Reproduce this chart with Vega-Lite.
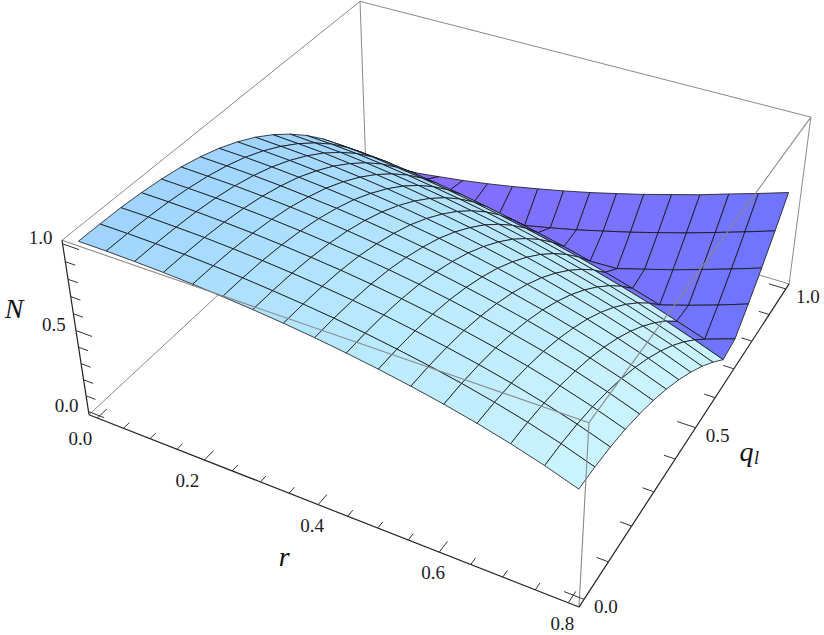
{"$schema":"https://vega.github.io/schema/vega-lite/v6.json","width":824,"height":635,"padding":0,"autosize":{"type":"fit","contains":"padding"},"background":"white","view":{"stroke":null},
"datasets":{
"nodes":[
{"id":16,"r":0,"q":1,"N":0,"side":"rise"},{"id":116,"r":0.05,"q":1,"N":0.007,"side":"rise"},{"id":216,"r":0.1,"q":1,"N":0.018,"side":"rise"},{"id":316,"r":0.15,"q":1,"N":0.04,"side":"rise"},{"id":416,"r":0.2,"q":1,"N":0.063,"side":"rise"},{"id":516,"r":0.25,"q":1,"N":0.09,"side":"rise"},{"id":616,"r":0.3,"q":1,"N":0.121,"side":"rise"},{"id":716,"r":0.35,"q":1,"N":0.155,"side":"rise"},{"id":816,"r":0.4,"q":1,"N":0.191,"side":"rise"},{"id":916,"r":0.45,"q":1,"N":0.23,"side":"rise"},{"id":1016,"r":0.5,"q":1,"N":0.273,"side":"rise"},{"id":1116,"r":0.55,"q":1,"N":0.318,"side":"rise"},{"id":1216,"r":0.6,"q":1,"N":0.367,"side":"rise"},{"id":1316,"r":0.65,"q":1,"N":0.416,"side":"rise"},{"id":1416,"r":0.7,"q":1,"N":0.471,"side":"rise"},{"id":1516,"r":0.75,"q":1,"N":0.524,"side":"rise"},{"id":1616,"r":0.8,"q":1,"N":0.58,"side":"rise"},
{"id":15,"r":0,"q":0.9375,"N":0.155,"side":"rise"},{"id":115,"r":0.05,"q":0.9375,"N":0.147,"side":"rise"},{"id":215,"r":0.1,"q":0.9375,"N":0.135,"side":"rise"},{"id":315,"r":0.15,"q":0.9375,"N":0.113,"side":"rise"},{"id":415,"r":0.2,"q":0.9375,"N":0.09,"side":"rise"},{"id":515,"r":0.25,"q":0.9375,"N":0.063,"side":"rise"},{"id":615,"r":0.3,"q":0.9375,"N":0.032,"side":"rise"},{"id":715,"r":0.35,"q":0.9375,"N":0.002,"side":"rise"},{"id":815,"r":0.4,"q":0.9375,"N":0.038,"side":"rise"},{"id":915,"r":0.45,"q":0.9375,"N":0.077,"side":"rise"},{"id":1015,"r":0.5,"q":0.9375,"N":0.121,"side":"rise"},{"id":1115,"r":0.55,"q":0.9375,"N":0.166,"side":"rise"},{"id":1215,"r":0.6,"q":0.9375,"N":0.216,"side":"rise"},{"id":1315,"r":0.65,"q":0.9375,"N":0.266,"side":"rise"},{"id":1415,"r":0.7,"q":0.9375,"N":0.322,"side":"rise"},{"id":1515,"r":0.75,"q":0.9375,"N":0.378,"side":"rise"},{"id":1615,"r":0.8,"q":0.9375,"N":0.437,"side":"rise"},
{"id":14,"r":0,"q":0.875,"N":0.295,"side":"rise"},{"id":114,"r":0.05,"q":0.875,"N":0.286,"side":"rise"},{"id":214,"r":0.1,"q":0.875,"N":0.273,"side":"rise"},{"id":314,"r":0.15,"q":0.875,"N":0.252,"side":"rise"},{"id":414,"r":0.2,"q":0.875,"N":0.229,"side":"rise"},{"id":514,"r":0.25,"q":0.875,"N":0.203,"side":"rise"},{"id":614,"r":0.3,"q":0.875,"N":0.172,"side":"rise"},{"id":714,"r":0.35,"q":0.875,"N":0.139,"side":"rise"},{"id":814,"r":0.4,"q":0.875,"N":0.103,"side":"rise"},{"id":914,"r":0.45,"q":0.875,"N":0.064,"side":"rise"},{"id":1014,"r":0.5,"q":0.875,"N":0.02,"side":"rise"},{"id":1114,"r":0.55,"q":0.875,"N":0.025,"side":"rise"},{"id":1214,"r":0.6,"q":0.875,"N":0.076,"side":"rise"},{"id":1314,"r":0.65,"q":0.875,"N":0.127,"side":"rise"},{"id":1414,"r":0.7,"q":0.875,"N":0.184,"side":"rise"},{"id":1514,"r":0.75,"q":0.875,"N":0.242,"side":"rise"},{"id":1614,"r":0.8,"q":0.875,"N":0.303,"side":"rise"},
{"id":13,"r":0,"q":0.8125,"N":0.418},{"id":113,"r":0.05,"q":0.8125,"N":0.409},{"id":213,"r":0.1,"q":0.8125,"N":0.396},{"id":313,"r":0.15,"q":0.8125,"N":0.375},{"id":413,"r":0.2,"q":0.8125,"N":0.353},{"id":513,"r":0.25,"q":0.8125,"N":0.327},{"id":613,"r":0.3,"q":0.8125,"N":0.298},{"id":713,"r":0.35,"q":0.8125,"N":0.265,"side":"rise"},{"id":813,"r":0.4,"q":0.8125,"N":0.23,"side":"rise"},{"id":913,"r":0.45,"q":0.8125,"N":0.191,"side":"rise"},{"id":1013,"r":0.5,"q":0.8125,"N":0.148,"side":"rise"},{"id":1113,"r":0.55,"q":0.8125,"N":0.103,"side":"rise"},{"id":1213,"r":0.6,"q":0.8125,"N":0.053,"side":"rise"},{"id":1313,"r":0.65,"q":0.8125,"N":0.001,"side":"rise"},{"id":1413,"r":0.7,"q":0.8125,"N":0.056,"side":"rise"},{"id":1513,"r":0.75,"q":0.8125,"N":0.115,"side":"rise"},{"id":1613,"r":0.8,"q":0.8125,"N":0.179,"side":"rise"},
{"id":12,"r":0,"q":0.75,"N":0.527},{"id":112,"r":0.05,"q":0.75,"N":0.518},{"id":212,"r":0.1,"q":0.75,"N":0.505},{"id":312,"r":0.15,"q":0.75,"N":0.486},{"id":412,"r":0.2,"q":0.75,"N":0.464},{"id":512,"r":0.25,"q":0.75,"N":0.439},{"id":612,"r":0.3,"q":0.75,"N":0.411},{"id":712,"r":0.35,"q":0.75,"N":0.379},{"id":812,"r":0.4,"q":0.75,"N":0.345},{"id":912,"r":0.45,"q":0.75,"N":0.307},{"id":1012,"r":0.5,"q":0.75,"N":0.265},{"id":1112,"r":0.55,"q":0.75,"N":0.22,"side":"rise"},{"id":1212,"r":0.6,"q":0.75,"N":0.171,"side":"rise"},{"id":1312,"r":0.65,"q":0.75,"N":0.119,"side":"rise"},{"id":1412,"r":0.7,"q":0.75,"N":0.061,"side":"rise"},{"id":1512,"r":0.75,"q":0.75,"N":0.002,"side":"rise"},{"id":1612,"r":0.8,"q":0.75,"N":0.064,"side":"rise"},
{"id":11,"r":0,"q":0.6875,"N":0.622},{"id":111,"r":0.05,"q":0.6875,"N":0.613},{"id":211,"r":0.1,"q":0.6875,"N":0.601},{"id":311,"r":0.15,"q":0.6875,"N":0.583},{"id":411,"r":0.2,"q":0.6875,"N":0.562},{"id":511,"r":0.25,"q":0.6875,"N":0.539},{"id":611,"r":0.3,"q":0.6875,"N":0.512},{"id":711,"r":0.35,"q":0.6875,"N":0.481},{"id":811,"r":0.4,"q":0.6875,"N":0.448},{"id":911,"r":0.45,"q":0.6875,"N":0.411},{"id":1011,"r":0.5,"q":0.6875,"N":0.37},{"id":1111,"r":0.55,"q":0.6875,"N":0.326},{"id":1211,"r":0.6,"q":0.6875,"N":0.278},{"id":1311,"r":0.65,"q":0.6875,"N":0.226},{"id":1411,"r":0.7,"q":0.6875,"N":0.169,"side":"rise"},{"id":1511,"r":0.75,"q":0.6875,"N":0.108,"side":"rise"},{"id":1611,"r":0.8,"q":0.6875,"N":0.042},
{"id":10,"r":0,"q":0.625,"N":0.705},{"id":110,"r":0.05,"q":0.625,"N":0.696},{"id":210,"r":0.1,"q":0.625,"N":0.685},{"id":310,"r":0.15,"q":0.625,"N":0.668},{"id":410,"r":0.2,"q":0.625,"N":0.649},{"id":510,"r":0.25,"q":0.625,"N":0.627},{"id":610,"r":0.3,"q":0.625,"N":0.601},{"id":710,"r":0.35,"q":0.625,"N":0.572},{"id":810,"r":0.4,"q":0.625,"N":0.541},{"id":910,"r":0.45,"q":0.625,"N":0.505},{"id":1010,"r":0.5,"q":0.625,"N":0.465},{"id":1110,"r":0.55,"q":0.625,"N":0.421},{"id":1210,"r":0.6,"q":0.625,"N":0.374},{"id":1310,"r":0.65,"q":0.625,"N":0.323},{"id":1410,"r":0.7,"q":0.625,"N":0.266},{"id":1510,"r":0.75,"q":0.625,"N":0.206},{"id":1610,"r":0.8,"q":0.625,"N":0.139},
{"id":9,"r":0,"q":0.5625,"N":0.776},{"id":109,"r":0.05,"q":0.5625,"N":0.767},{"id":209,"r":0.1,"q":0.5625,"N":0.757},{"id":309,"r":0.15,"q":0.5625,"N":0.742},{"id":409,"r":0.2,"q":0.5625,"N":0.724},{"id":509,"r":0.25,"q":0.5625,"N":0.703},{"id":609,"r":0.3,"q":0.5625,"N":0.679},{"id":709,"r":0.35,"q":0.5625,"N":0.651},{"id":809,"r":0.4,"q":0.5625,"N":0.621},{"id":909,"r":0.45,"q":0.5625,"N":0.587},{"id":1009,"r":0.5,"q":0.5625,"N":0.548},{"id":1109,"r":0.55,"q":0.5625,"N":0.506},{"id":1209,"r":0.6,"q":0.5625,"N":0.46},{"id":1309,"r":0.65,"q":0.5625,"N":0.41},{"id":1409,"r":0.7,"q":0.5625,"N":0.354},{"id":1509,"r":0.75,"q":0.5625,"N":0.294},{"id":1609,"r":0.8,"q":0.5625,"N":0.227},
{"id":8,"r":0,"q":0.5,"N":0.835},{"id":108,"r":0.05,"q":0.5,"N":0.828},{"id":208,"r":0.1,"q":0.5,"N":0.818},{"id":308,"r":0.15,"q":0.5,"N":0.804},{"id":408,"r":0.2,"q":0.5,"N":0.788},{"id":508,"r":0.25,"q":0.5,"N":0.768},{"id":608,"r":0.3,"q":0.5,"N":0.746},{"id":708,"r":0.35,"q":0.5,"N":0.72},{"id":808,"r":0.4,"q":0.5,"N":0.692},{"id":908,"r":0.45,"q":0.5,"N":0.658},{"id":1008,"r":0.5,"q":0.5,"N":0.621},{"id":1108,"r":0.55,"q":0.5,"N":0.581},{"id":1208,"r":0.6,"q":0.5,"N":0.536},{"id":1308,"r":0.65,"q":0.5,"N":0.487},{"id":1408,"r":0.7,"q":0.5,"N":0.432},{"id":1508,"r":0.75,"q":0.5,"N":0.372},{"id":1608,"r":0.8,"q":0.5,"N":0.305},
{"id":7,"r":0,"q":0.4375,"N":0.884},{"id":107,"r":0.05,"q":0.4375,"N":0.878},{"id":207,"r":0.1,"q":0.4375,"N":0.869},{"id":307,"r":0.15,"q":0.4375,"N":0.857},{"id":407,"r":0.2,"q":0.4375,"N":0.842},{"id":507,"r":0.25,"q":0.4375,"N":0.824},{"id":607,"r":0.3,"q":0.4375,"N":0.803},{"id":707,"r":0.35,"q":0.4375,"N":0.779},{"id":807,"r":0.4,"q":0.4375,"N":0.752},{"id":907,"r":0.45,"q":0.4375,"N":0.72},{"id":1007,"r":0.5,"q":0.4375,"N":0.684},{"id":1107,"r":0.55,"q":0.4375,"N":0.645},{"id":1207,"r":0.6,"q":0.4375,"N":0.601},{"id":1307,"r":0.65,"q":0.4375,"N":0.554},{"id":1407,"r":0.7,"q":0.4375,"N":0.5},{"id":1507,"r":0.75,"q":0.4375,"N":0.441},{"id":1607,"r":0.8,"q":0.4375,"N":0.374},
{"id":6,"r":0,"q":0.375,"N":0.922},{"id":106,"r":0.05,"q":0.375,"N":0.917},{"id":206,"r":0.1,"q":0.375,"N":0.909},{"id":306,"r":0.15,"q":0.375,"N":0.898},{"id":406,"r":0.2,"q":0.375,"N":0.884},{"id":506,"r":0.25,"q":0.375,"N":0.868},{"id":606,"r":0.3,"q":0.375,"N":0.849},{"id":706,"r":0.35,"q":0.375,"N":0.826},{"id":806,"r":0.4,"q":0.375,"N":0.8},{"id":906,"r":0.45,"q":0.375,"N":0.77},{"id":1006,"r":0.5,"q":0.375,"N":0.736},{"id":1106,"r":0.55,"q":0.375,"N":0.699},{"id":1206,"r":0.6,"q":0.375,"N":0.657},{"id":1306,"r":0.65,"q":0.375,"N":0.61},{"id":1406,"r":0.7,"q":0.375,"N":0.558},{"id":1506,"r":0.75,"q":0.375,"N":0.5},{"id":1606,"r":0.8,"q":0.375,"N":0.434},
{"id":5,"r":0,"q":0.3125,"N":0.952},{"id":105,"r":0.05,"q":0.3125,"N":0.947},{"id":205,"r":0.1,"q":0.3125,"N":0.941},{"id":305,"r":0.15,"q":0.3125,"N":0.931},{"id":405,"r":0.2,"q":0.3125,"N":0.919},{"id":505,"r":0.25,"q":0.3125,"N":0.904},{"id":605,"r":0.3,"q":0.3125,"N":0.886},{"id":705,"r":0.35,"q":0.3125,"N":0.864},{"id":805,"r":0.4,"q":0.3125,"N":0.84},{"id":905,"r":0.45,"q":0.3125,"N":0.812},{"id":1005,"r":0.5,"q":0.3125,"N":0.779},{"id":1105,"r":0.55,"q":0.3125,"N":0.743},{"id":1205,"r":0.6,"q":0.3125,"N":0.703},{"id":1305,"r":0.65,"q":0.3125,"N":0.658},{"id":1405,"r":0.7,"q":0.3125,"N":0.607},{"id":1505,"r":0.75,"q":0.3125,"N":0.55},{"id":1605,"r":0.8,"q":0.3125,"N":0.485},
{"id":4,"r":0,"q":0.25,"N":0.973},{"id":104,"r":0.05,"q":0.25,"N":0.969},{"id":204,"r":0.1,"q":0.25,"N":0.964},{"id":304,"r":0.15,"q":0.25,"N":0.955},{"id":404,"r":0.2,"q":0.25,"N":0.944},{"id":504,"r":0.25,"q":0.25,"N":0.93},{"id":604,"r":0.3,"q":0.25,"N":0.913},{"id":704,"r":0.35,"q":0.25,"N":0.894},{"id":804,"r":0.4,"q":0.25,"N":0.871},{"id":904,"r":0.45,"q":0.25,"N":0.844},{"id":1004,"r":0.5,"q":0.25,"N":0.813},{"id":1104,"r":0.55,"q":0.25,"N":0.778},{"id":1204,"r":0.6,"q":0.25,"N":0.739},{"id":1304,"r":0.65,"q":0.25,"N":0.696},{"id":1404,"r":0.7,"q":0.25,"N":0.646},{"id":1504,"r":0.75,"q":0.25,"N":0.59},{"id":1604,"r":0.8,"q":0.25,"N":0.526},
{"id":3,"r":0,"q":0.1875,"N":0.987},{"id":103,"r":0.05,"q":0.1875,"N":0.985},{"id":203,"r":0.1,"q":0.1875,"N":0.98},{"id":303,"r":0.15,"q":0.1875,"N":0.972},{"id":403,"r":0.2,"q":0.1875,"N":0.962},{"id":503,"r":0.25,"q":0.1875,"N":0.949},{"id":603,"r":0.3,"q":0.1875,"N":0.933},{"id":703,"r":0.35,"q":0.1875,"N":0.915},{"id":803,"r":0.4,"q":0.1875,"N":0.893},{"id":903,"r":0.45,"q":0.1875,"N":0.867},{"id":1003,"r":0.5,"q":0.1875,"N":0.838},{"id":1103,"r":0.55,"q":0.1875,"N":0.805},{"id":1203,"r":0.6,"q":0.1875,"N":0.767},{"id":1303,"r":0.65,"q":0.1875,"N":0.725},{"id":1403,"r":0.7,"q":0.1875,"N":0.677},{"id":1503,"r":0.75,"q":0.1875,"N":0.622},{"id":1603,"r":0.8,"q":0.1875,"N":0.559},
{"id":2,"r":0,"q":0.125,"N":0.996},{"id":102,"r":0.05,"q":0.125,"N":0.994},{"id":202,"r":0.1,"q":0.125,"N":0.989},{"id":302,"r":0.15,"q":0.125,"N":0.983},{"id":402,"r":0.2,"q":0.125,"N":0.973},{"id":502,"r":0.25,"q":0.125,"N":0.961},{"id":602,"r":0.3,"q":0.125,"N":0.946},{"id":702,"r":0.35,"q":0.125,"N":0.928},{"id":802,"r":0.4,"q":0.125,"N":0.907},{"id":902,"r":0.45,"q":0.125,"N":0.883},{"id":1002,"r":0.5,"q":0.125,"N":0.854},{"id":1102,"r":0.55,"q":0.125,"N":0.822},{"id":1202,"r":0.6,"q":0.125,"N":0.786},{"id":1302,"r":0.65,"q":0.125,"N":0.745},{"id":1402,"r":0.7,"q":0.125,"N":0.698},{"id":1502,"r":0.75,"q":0.125,"N":0.644},{"id":1602,"r":0.8,"q":0.125,"N":0.582},
{"id":1,"r":0,"q":0.0625,"N":0.999},{"id":101,"r":0.05,"q":0.0625,"N":0.998},{"id":201,"r":0.1,"q":0.0625,"N":0.994},{"id":301,"r":0.15,"q":0.0625,"N":0.988},{"id":401,"r":0.2,"q":0.0625,"N":0.979},{"id":501,"r":0.25,"q":0.0625,"N":0.967},{"id":601,"r":0.3,"q":0.0625,"N":0.952},{"id":701,"r":0.35,"q":0.0625,"N":0.935},{"id":801,"r":0.4,"q":0.0625,"N":0.915},{"id":901,"r":0.45,"q":0.0625,"N":0.891},{"id":1001,"r":0.5,"q":0.0625,"N":0.863},{"id":1101,"r":0.55,"q":0.0625,"N":0.832},{"id":1201,"r":0.6,"q":0.0625,"N":0.797},{"id":1301,"r":0.65,"q":0.0625,"N":0.756},{"id":1401,"r":0.7,"q":0.0625,"N":0.71},{"id":1501,"r":0.75,"q":0.0625,"N":0.657},{"id":1601,"r":0.8,"q":0.0625,"N":0.595},
{"id":0,"r":0,"q":0,"N":1},{"id":100,"r":0.05,"q":0,"N":0.999},{"id":200,"r":0.1,"q":0,"N":0.995},{"id":300,"r":0.15,"q":0,"N":0.989},{"id":400,"r":0.2,"q":0,"N":0.98},{"id":500,"r":0.25,"q":0,"N":0.968},{"id":600,"r":0.3,"q":0,"N":0.954},{"id":700,"r":0.35,"q":0,"N":0.937},{"id":800,"r":0.4,"q":0,"N":0.917},{"id":900,"r":0.45,"q":0,"N":0.893},{"id":1000,"r":0.5,"q":0,"N":0.866},{"id":1100,"r":0.55,"q":0,"N":0.835},{"id":1200,"r":0.6,"q":0,"N":0.8},{"id":1300,"r":0.65,"q":0,"N":0.76},{"id":1400,"r":0.7,"q":0,"N":0.714},{"id":1500,"r":0.75,"q":0,"N":0.661},{"id":1600,"r":0.8,"q":0,"N":0.6}
],
"edges":[
{"kind":"back","r1":-0.016,"q1":-0.02,"N1":-0.02,"r2":-0.016,"q2":1.02,"N2":-0.02},
{"kind":"back","r1":-0.016,"q1":1.02,"N1":-0.02,"r2":0.816,"q2":1.02,"N2":-0.02},
{"kind":"back","r1":-0.016,"q1":1.02,"N1":-0.02,"r2":-0.016,"q2":1.02,"N2":1.02},
{"kind":"back","r1":-0.016,"q1":-0.02,"N1":1.02,"r2":-0.016,"q2":1.02,"N2":1.02},
{"kind":"back","r1":-0.016,"q1":1.02,"N1":1.02,"r2":0.816,"q2":1.02,"N2":1.02},
{"kind":"back","r1":0.816,"q1":1.02,"N1":-0.02,"r2":0.816,"q2":1.02,"N2":1.02},
{"kind":"front","r1":-0.016,"q1":-0.02,"N1":1.02,"r2":0.816,"q2":-0.02,"N2":1.02},
{"kind":"front","r1":0.816,"q1":-0.02,"N1":1.02,"r2":0.816,"q2":-0.02,"N2":-0.02},
{"kind":"front","r1":0.816,"q1":-0.02,"N1":1.02,"r2":0.816,"q2":1.02,"N2":1.02},
{"kind":"axis","r1":-0.016,"q1":-0.02,"N1":-0.02,"r2":0.816,"q2":-0.02,"N2":-0.02},
{"kind":"axis","r1":0.816,"q1":-0.02,"N1":-0.02,"r2":0.816,"q2":1.02,"N2":-0.02},
{"kind":"axis","r1":-0.016,"q1":-0.02,"N1":-0.02,"r2":-0.016,"q2":-0.02,"N2":1.02}
],
"ticks":[
{"axis":"r","v":0,"label":"0.0"},{"axis":"r","v":0.05},{"axis":"r","v":0.1},{"axis":"r","v":0.15},{"axis":"r","v":0.2,"label":"0.2"},{"axis":"r","v":0.25},{"axis":"r","v":0.3},{"axis":"r","v":0.35},{"axis":"r","v":0.4,"label":"0.4"},{"axis":"r","v":0.45},{"axis":"r","v":0.5},{"axis":"r","v":0.55},{"axis":"r","v":0.6,"label":"0.6"},{"axis":"r","v":0.65},{"axis":"r","v":0.7},{"axis":"r","v":0.75},{"axis":"r","v":0.8,"label":"0.8"},
{"axis":"q","v":0,"label":"0.0"},{"axis":"q","v":0.1},{"axis":"q","v":0.2},{"axis":"q","v":0.3},{"axis":"q","v":0.4},{"axis":"q","v":0.5,"label":"0.5"},{"axis":"q","v":0.6},{"axis":"q","v":0.7},{"axis":"q","v":0.8},{"axis":"q","v":0.9},{"axis":"q","v":1,"label":"1.0"},
{"axis":"N","v":0,"label":"0.0"},{"axis":"N","v":0.1},{"axis":"N","v":0.2},{"axis":"N","v":0.3},{"axis":"N","v":0.4},{"axis":"N","v":0.5,"label":"0.5"},{"axis":"N","v":0.6},{"axis":"N","v":0.7},{"axis":"N","v":0.8},{"axis":"N","v":0.9},{"axis":"N","v":1,"label":"1.0"}
],
"titles":[{"axis":"r","v":0.4,"label":"r"},{"axis":"q","v":0.5,"label":"q"},{"axis":"N","v":0.5,"label":"N"}]
},
"encoding":{
"x":{"field":"px","type":"quantitative","scale":{"domain":[0,824],"nice":false,"zero":false},"axis":null},
"y":{"field":"py","type":"quantitative","scale":{"domain":[635,0],"nice":false,"zero":false},"axis":null}
},
"resolve":{"scale":{"fill":"independent"}},
"layer":[
{"data":{"name":"edges"},"transform":[{"filter":"datum.kind=='back'"},
{"calculate":"(datum.r1+0.016)/0.832","as":"u"},{"calculate":"(datum.q1+0.02)/1.04","as":"v"},{"calculate":"(datum.N1+0.02)/1.04","as":"w"},{"calculate":"1-0.1212*datum.u+0.217*datum.v-0.0679*datum.w","as":"h"},{"calculate":"(89+419.8*datum.u+355.9*datum.v-31.2*datum.w)/datum.h","as":"px"},{"calculate":"(414+119.4*datum.u-223.5*datum.v-191.2*datum.w)/datum.h","as":"py"},
{"calculate":"(datum.r2+0.016)/0.832","as":"u2"},{"calculate":"(datum.q2+0.02)/1.04","as":"v2"},{"calculate":"(datum.N2+0.02)/1.04","as":"w2"},{"calculate":"1-0.1212*datum.u2+0.217*datum.v2-0.0679*datum.w2","as":"h2"},{"calculate":"(89+419.8*datum.u2+355.9*datum.v2-31.2*datum.w2)/datum.h2","as":"ex"},{"calculate":"(414+119.4*datum.u2-223.5*datum.v2-191.2*datum.w2)/datum.h2","as":"ey"}],
"mark":{"type":"rule","stroke":"#8a8a8a","strokeWidth":1,"clip":false},"encoding":{"x2":{"field":"ex"},"y2":{"field":"ey"}}},
{"data":{"name":"nodes"},"transform":[{"filter":"datum.side=='rise' && datum.id%100<16 && datum.id<1600"},{"calculate":"[0,1,2,3,4]","as":"k"},{"flatten":["k"]},
{"calculate":"datum.id+((datum.k==1||datum.k==2)?100:0)+((datum.k==2||datum.k==3)?1:0)","as":"vid"},
{"lookup":"vid","from":{"data":{"name":"nodes"},"key":"id","fields":["r","q","N"]},"as":["rv","qv","Nv"]},
{"calculate":"(datum.rv+0.016)/0.832","as":"u"},{"calculate":"(datum.qv+0.02)/1.04","as":"v"},{"calculate":"(datum.Nv+0.02)/1.04","as":"w"},{"calculate":"1-0.1212*datum.u+0.217*datum.v-0.0679*datum.w","as":"h"},{"calculate":"(89+419.8*datum.u+355.9*datum.v-31.2*datum.w)/datum.h","as":"px"},{"calculate":"(414+119.4*datum.u-223.5*datum.v-191.2*datum.w)/datum.h","as":"py"}],
"mark":{"type":"line","stroke":"#111111","strokeWidth":0.8,"clip":false},
"encoding":{"detail":{"field":"id"},"order":{"field":"k"},"fill":{"field":"r","type":"quantitative","scale":{"domain":[0,0.8],"range":["#8c6cff","#6e76ff"]},"legend":null}}},
{"data":{"name":"nodes"},"transform":[{"filter":"datum.side!='rise' && datum.id%100<16 && datum.id<1600"},{"calculate":"[0,1,2,3,4]","as":"k"},{"flatten":["k"]},
{"calculate":"datum.id+((datum.k==1||datum.k==2)?100:0)+((datum.k==2||datum.k==3)?1:0)","as":"vid"},
{"lookup":"vid","from":{"data":{"name":"nodes"},"key":"id","fields":["r","q","N"]},"as":["rv","qv","Nv"]},
{"calculate":"(datum.rv+0.016)/0.832","as":"u"},{"calculate":"(datum.qv+0.02)/1.04","as":"v"},{"calculate":"(datum.Nv+0.02)/1.04","as":"w"},{"calculate":"1-0.1212*datum.u+0.217*datum.v-0.0679*datum.w","as":"h"},{"calculate":"(89+419.8*datum.u+355.9*datum.v-31.2*datum.w)/datum.h","as":"px"},{"calculate":"(414+119.4*datum.u-223.5*datum.v-191.2*datum.w)/datum.h","as":"py"}],
"mark":{"type":"line","stroke":"#111111","strokeWidth":0.8,"clip":false},
"encoding":{"detail":{"field":"id"},"order":{"field":"k"},"fill":{"field":"r","type":"quantitative","scale":{"domain":[0,0.4,0.8],"range":["#a0d4ff","#b8e8ff","#ccf4ff"]},"legend":null}}},
{"data":{"name":"edges"},"transform":[{"filter":"datum.kind=='front'"},
{"calculate":"(datum.r1+0.016)/0.832","as":"u"},{"calculate":"(datum.q1+0.02)/1.04","as":"v"},{"calculate":"(datum.N1+0.02)/1.04","as":"w"},{"calculate":"1-0.1212*datum.u+0.217*datum.v-0.0679*datum.w","as":"h"},{"calculate":"(89+419.8*datum.u+355.9*datum.v-31.2*datum.w)/datum.h","as":"px"},{"calculate":"(414+119.4*datum.u-223.5*datum.v-191.2*datum.w)/datum.h","as":"py"},
{"calculate":"(datum.r2+0.016)/0.832","as":"u2"},{"calculate":"(datum.q2+0.02)/1.04","as":"v2"},{"calculate":"(datum.N2+0.02)/1.04","as":"w2"},{"calculate":"1-0.1212*datum.u2+0.217*datum.v2-0.0679*datum.w2","as":"h2"},{"calculate":"(89+419.8*datum.u2+355.9*datum.v2-31.2*datum.w2)/datum.h2","as":"ex"},{"calculate":"(414+119.4*datum.u2-223.5*datum.v2-191.2*datum.w2)/datum.h2","as":"ey"}],
"mark":{"type":"rule","stroke":"#8a8a8a","strokeWidth":1.1,"clip":false},"encoding":{"x2":{"field":"ex"},"y2":{"field":"ey"}}},
{"data":{"name":"edges"},"transform":[{"filter":"datum.kind=='axis'"},
{"calculate":"(datum.r1+0.016)/0.832","as":"u"},{"calculate":"(datum.q1+0.02)/1.04","as":"v"},{"calculate":"(datum.N1+0.02)/1.04","as":"w"},{"calculate":"1-0.1212*datum.u+0.217*datum.v-0.0679*datum.w","as":"h"},{"calculate":"(89+419.8*datum.u+355.9*datum.v-31.2*datum.w)/datum.h","as":"px"},{"calculate":"(414+119.4*datum.u-223.5*datum.v-191.2*datum.w)/datum.h","as":"py"},
{"calculate":"(datum.r2+0.016)/0.832","as":"u2"},{"calculate":"(datum.q2+0.02)/1.04","as":"v2"},{"calculate":"(datum.N2+0.02)/1.04","as":"w2"},{"calculate":"1-0.1212*datum.u2+0.217*datum.v2-0.0679*datum.w2","as":"h2"},{"calculate":"(89+419.8*datum.u2+355.9*datum.v2-31.2*datum.w2)/datum.h2","as":"ex"},{"calculate":"(414+119.4*datum.u2-223.5*datum.v2-191.2*datum.w2)/datum.h2","as":"ey"}],
"mark":{"type":"rule","stroke":"#222222","strokeWidth":1.2,"clip":false},"encoding":{"x2":{"field":"ex"},"y2":{"field":"ey"}}},
{"data":{"name":"ticks"},"transform":[
{"calculate":"datum.label?0.03:0.018","as":"L"},
{"calculate":"datum.axis=='r'?datum.v:(datum.axis=='q'?0.816:-0.016)","as":"r1"},
{"calculate":"datum.axis=='q'?datum.v:-0.02","as":"q1"},
{"calculate":"datum.axis=='N'?datum.v:-0.02","as":"N1"},
{"calculate":"datum.axis=='q'?datum.r1-datum.L:(datum.axis=='N'?datum.r1+datum.L:datum.r1)","as":"r2"},
{"calculate":"datum.axis=='r'?datum.q1+datum.L:datum.q1","as":"q2"},
{"calculate":"(datum.r1+0.016)/0.832","as":"u"},{"calculate":"(datum.q1+0.02)/1.04","as":"v1"},{"calculate":"(datum.N1+0.02)/1.04","as":"w"},{"calculate":"1-0.1212*datum.u+0.217*datum.v1-0.0679*datum.w","as":"h"},{"calculate":"(89+419.8*datum.u+355.9*datum.v1-31.2*datum.w)/datum.h","as":"px"},{"calculate":"(414+119.4*datum.u-223.5*datum.v1-191.2*datum.w)/datum.h","as":"py"},
{"calculate":"(datum.r2+0.016)/0.832","as":"u2"},{"calculate":"(datum.q2+0.02)/1.04","as":"v2"},{"calculate":"1-0.1212*datum.u2+0.217*datum.v2-0.0679*datum.w","as":"h2"},{"calculate":"(89+419.8*datum.u2+355.9*datum.v2-31.2*datum.w)/datum.h2","as":"ex"},{"calculate":"(414+119.4*datum.u2-223.5*datum.v2-191.2*datum.w)/datum.h2","as":"ey"}],
"mark":{"type":"rule","stroke":"#333333","strokeWidth":1,"clip":false},"encoding":{"x2":{"field":"ex"},"y2":{"field":"ey"}}},
{"data":{"name":"ticks"},"transform":[{"filter":"datum.label"},
{"calculate":"datum.axis=='r'?datum.v:(datum.axis=='q'?0.816:-0.016)","as":"r1"},
{"calculate":"datum.axis=='q'?datum.v:-0.02","as":"q1"},
{"calculate":"datum.axis=='N'?datum.v:-0.02","as":"N1"},
{"calculate":"(datum.r1+0.016)/0.832","as":"u"},{"calculate":"(datum.q1+0.02)/1.04","as":"v1"},{"calculate":"(datum.N1+0.02)/1.04","as":"w"},{"calculate":"1-0.1212*datum.u+0.217*datum.v1-0.0679*datum.w","as":"h"},
{"calculate":"(89+419.8*datum.u+355.9*datum.v1-31.2*datum.w)/datum.h+(datum.axis=='r'?(datum.v<0.3?-17:-6):(datum.axis=='q'?22:-22))","as":"px"},
{"calculate":"(414+119.4*datum.u-223.5*datum.v1-191.2*datum.w)/datum.h+(datum.axis=='r'?21:(datum.axis=='q'?8:-6))","as":"py"}],
"mark":{"type":"text","font":"Liberation Serif","fontSize":19,"fill":"#1c1c28","align":"center","baseline":"middle","clip":false},"encoding":{"text":{"field":"label"}}},
{"data":{"name":"titles"},"transform":[
{"calculate":"datum.axis=='r'?datum.v:(datum.axis=='q'?0.816:-0.016)","as":"r1"},
{"calculate":"datum.axis=='q'?datum.v:-0.02","as":"q1"},
{"calculate":"datum.axis=='N'?datum.v:-0.02","as":"N1"},
{"calculate":"(datum.r1+0.016)/0.832","as":"u"},{"calculate":"(datum.q1+0.02)/1.04","as":"v1"},{"calculate":"(datum.N1+0.02)/1.04","as":"w"},{"calculate":"1-0.1212*datum.u+0.217*datum.v1-0.0679*datum.w","as":"h"},
{"calculate":"(89+419.8*datum.u+355.9*datum.v1-31.2*datum.w)/datum.h+(datum.axis=='r'?-34:(datum.axis=='q'?51:-62))","as":"px"},
{"calculate":"(414+119.4*datum.u-223.5*datum.v1-191.2*datum.w)/datum.h+(datum.axis=='r'?54:(datum.axis=='q'?25:-21))","as":"py"}],
"mark":{"type":"text","font":"Liberation Serif","fontStyle":"italic","fontSize":28,"fill":"#111111","align":"center","baseline":"middle","clip":false},"encoding":{"text":{"field":"label"}}},
{"data":{"values":[{"axis":"q","v":0.5,"label":"l"}]},"transform":[
{"calculate":"(datum.v+0.02)/1.04","as":"v1"},{"calculate":"1-0.1212+0.217*datum.v1","as":"h"},
{"calculate":"(89+419.8+355.9*datum.v1)/datum.h+61","as":"px"},
{"calculate":"(414+119.4-223.5*datum.v1)/datum.h+31","as":"py"}],
"mark":{"type":"text","font":"Liberation Serif","fontStyle":"italic","fontSize":18,"fill":"#111111","align":"center","baseline":"middle","clip":false},"encoding":{"text":{"field":"label"}}}
]
}
